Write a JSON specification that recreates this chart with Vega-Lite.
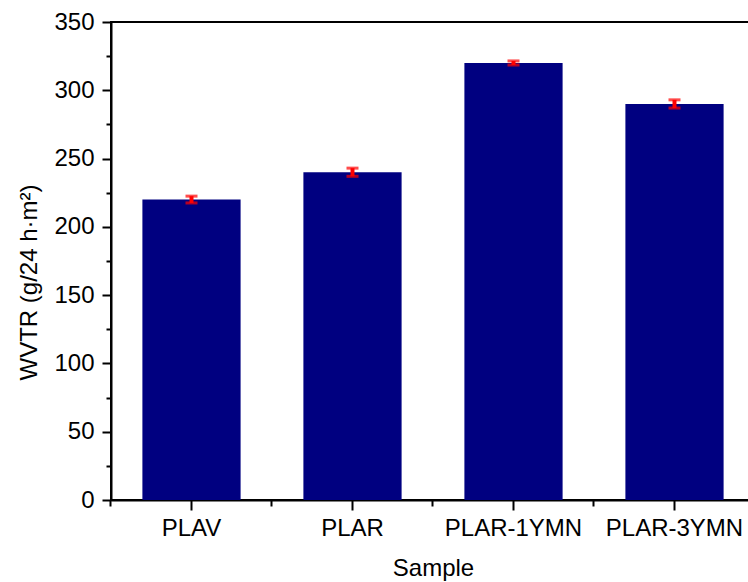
{
  "$schema": "https://vega.github.io/schema/vega-lite/v6.json",
  "autosize": {"type": "none"},
  "padding": {"left": 111, "top": 22, "right": 0, "bottom": 82},
  "width": 644,
  "height": 478,
  "background": "white",
  "view": {"stroke": "black", "strokeWidth": 2},
  "config": {
    "font": "Liberation Sans",
    "axis": {
      "domainColor": "black", "domainWidth": 2,
      "tickColor": "black", "tickWidth": 2,
      "labelFont": "Liberation Sans", "labelFontSize": 24, "labelColor": "black",
      "titleFont": "Liberation Sans", "titleFontSize": 24, "titleFontWeight": "normal", "titleColor": "black",
      "grid": false
    }
  },
  "data": {
    "values": [
      {"Sample": "PLAV", "WVTR": 220, "err": 2.5},
      {"Sample": "PLAR", "WVTR": 240, "err": 3},
      {"Sample": "PLAR-1YMN", "WVTR": 320, "err": 1.5},
      {"Sample": "PLAR-3YMN", "WVTR": 290, "err": 3}
    ]
  },
  "resolve": {"axis": {"x": "independent", "y": "independent"}},
  "layer": [
    {
      "mark": {"type": "bar", "color": "#000080"},
      "encoding": {
        "x": {
          "field": "Sample", "type": "nominal", "sort": null,
          "scale": {"paddingInner": 0.39, "paddingOuter": 0.195},
          "axis": {"orient": "bottom", "title": "Sample", "labelAngle": 0, "tickSize": 10, "labelPadding": 6, "titlePadding": 16}
        },
        "y": {
          "field": "WVTR", "type": "quantitative",
          "scale": {"domain": [0, 350], "nice": false},
          "axis": {"orient": "left", "title": "WVTR (g/24 h·m²)", "values": [0, 50, 100, 150, 200, 250, 300, 350], "tickSize": 9, "labelPadding": 8, "titlePadding": 12, "titleY": 260}
        }
      }
    },
    {
      "mark": {"type": "bar", "opacity": 0},
      "encoding": {
        "x": {
          "field": "Sample", "type": "nominal", "sort": null,
          "axis": {"orient": "bottom", "title": null, "labels": false, "domain": false, "tickSize": 6, "bandPosition": -0.3197}
        },
        "y": {
          "field": "WVTR", "type": "quantitative",
          "axis": {"orient": "left", "title": null, "labels": false, "domain": false, "tickSize": 5, "values": [25, 75, 125, 175, 225, 275, 325]}
        }
      }
    },
    {
      "mark": {
        "type": "errorbar",
        "ticks": {"color": "#FF0000", "size": 12, "thickness": 3},
        "rule": {"color": "#FF0000", "strokeWidth": 4}
      },
      "encoding": {
        "x": {"field": "Sample", "type": "nominal", "sort": null, "axis": null},
        "y": {"field": "WVTR", "type": "quantitative", "axis": null},
        "yError": {"field": "err"}
      }
    }
  ]
}
